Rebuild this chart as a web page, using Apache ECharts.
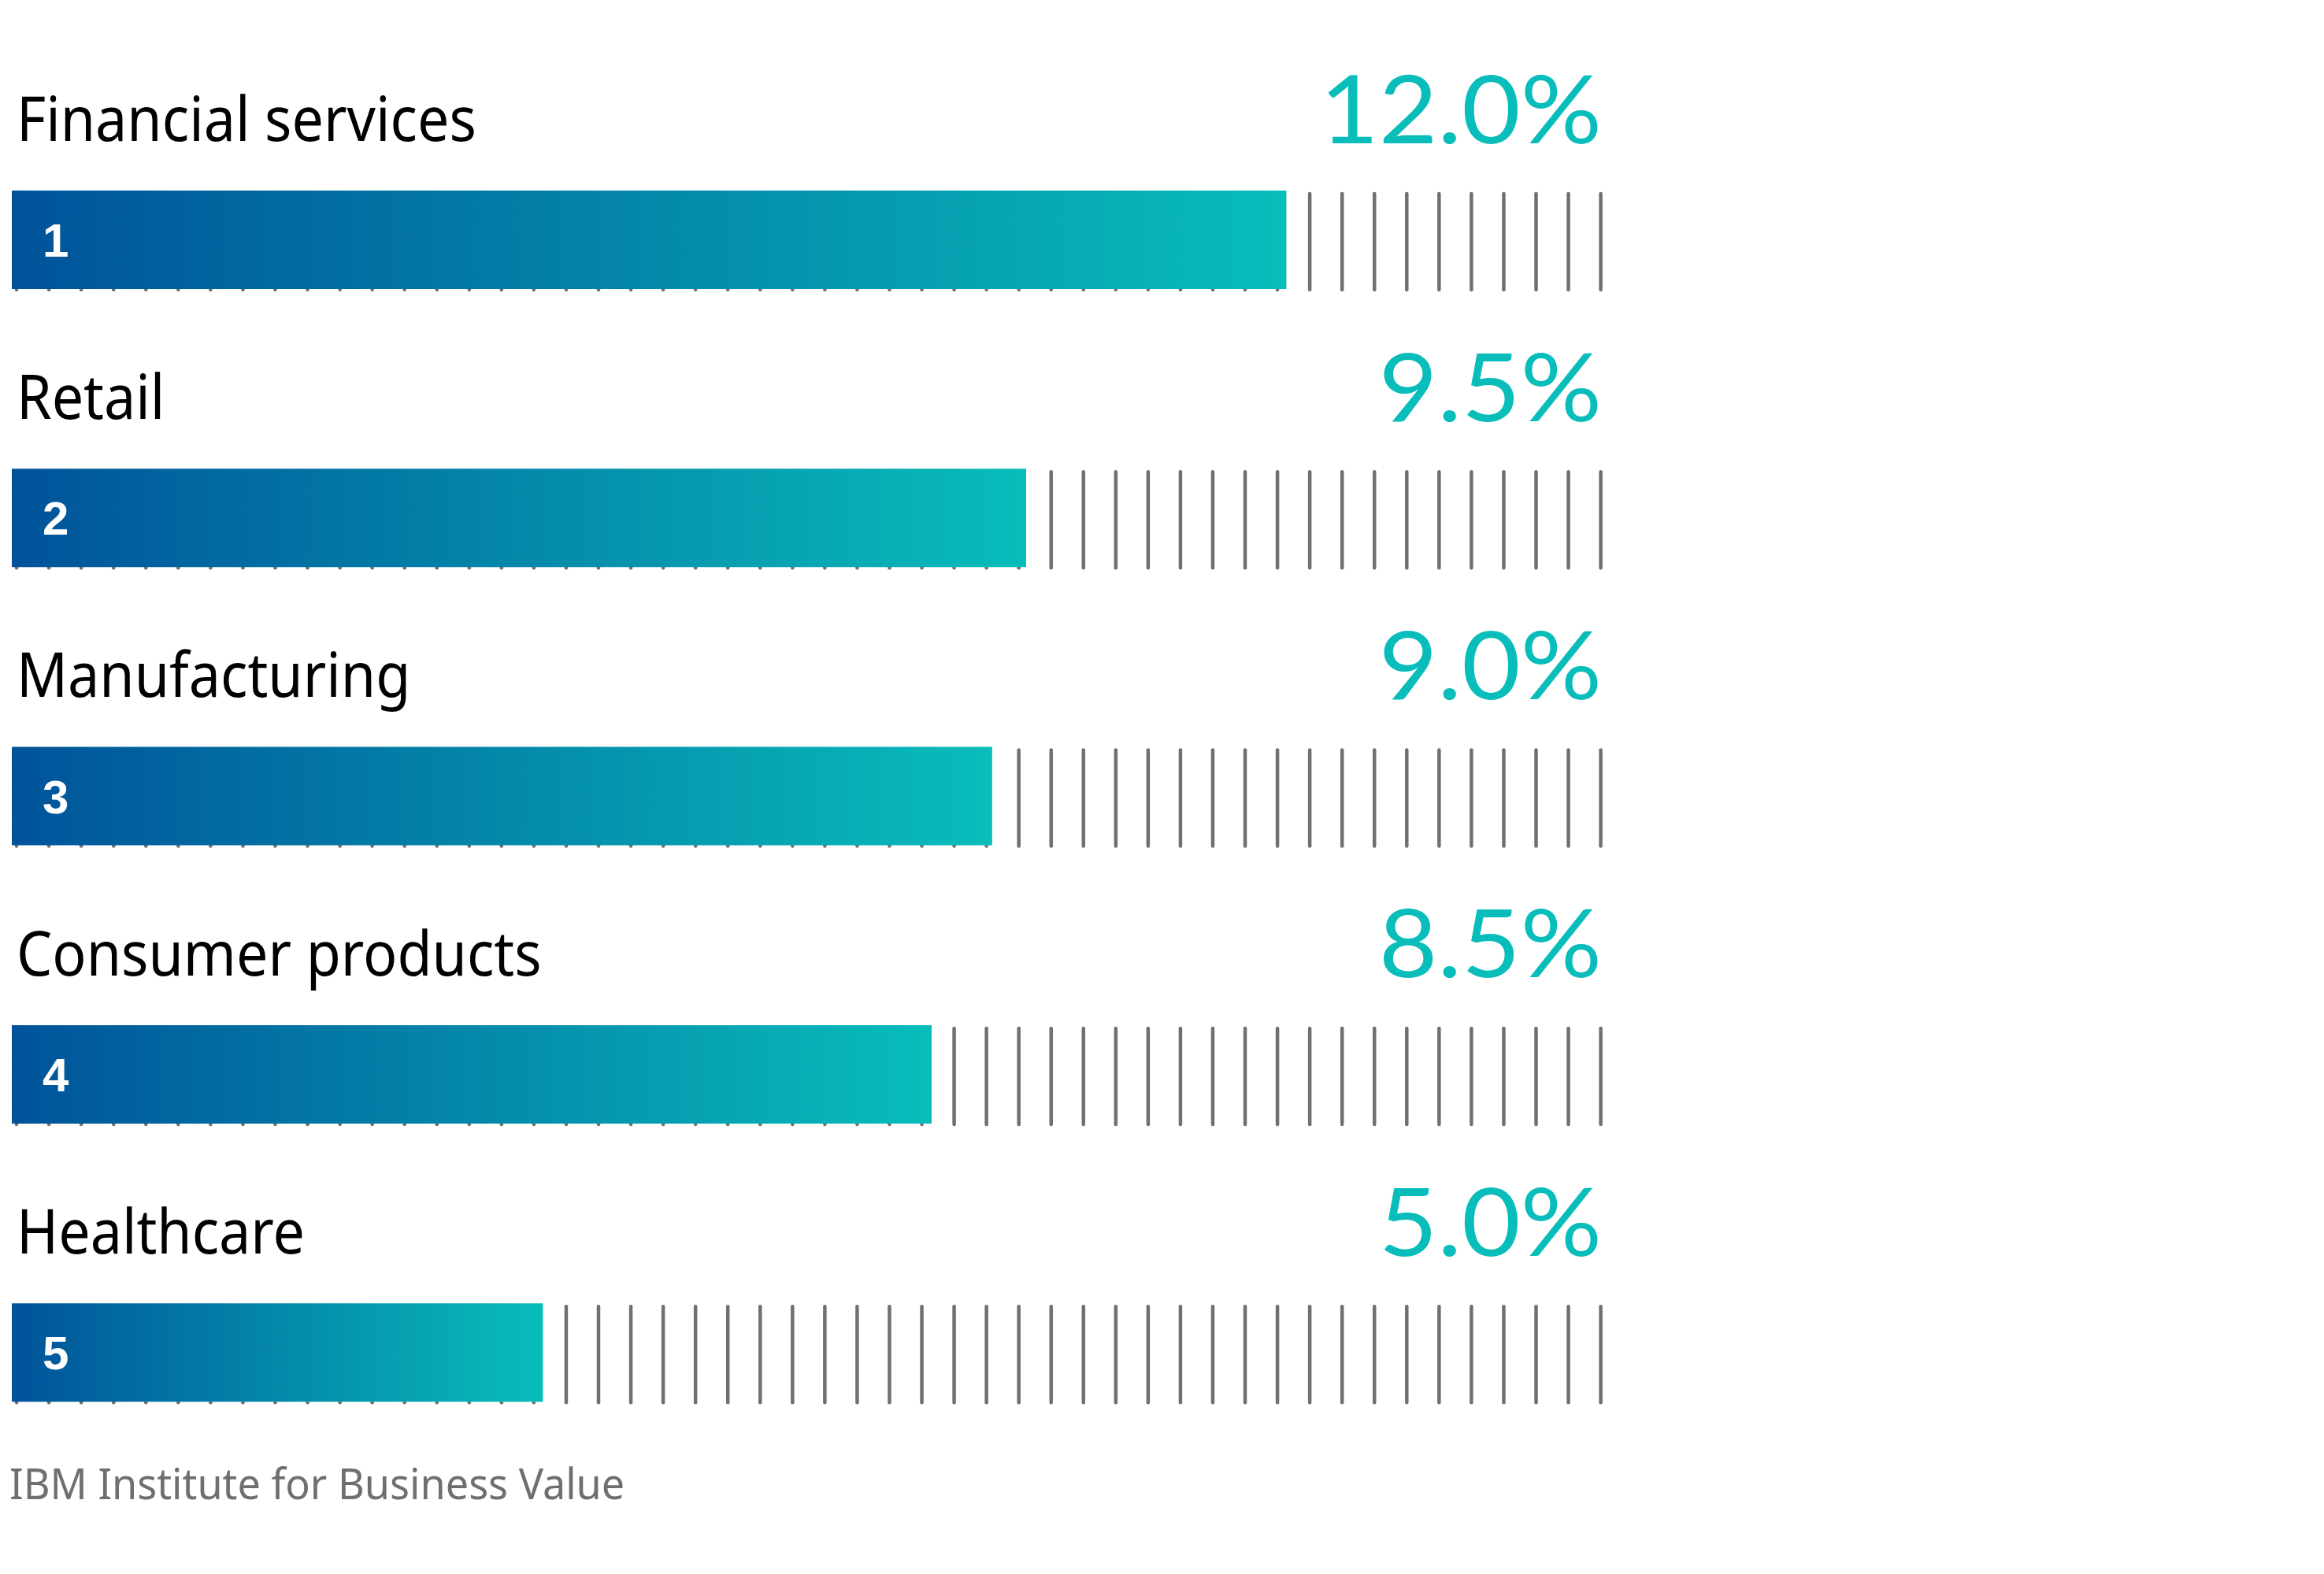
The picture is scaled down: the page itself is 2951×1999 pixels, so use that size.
<!DOCTYPE html>
<html>
<head>
<meta charset="utf-8">
<script src="https://cdn.jsdelivr.net/npm/echarts@6/dist/echarts.min.js"></script>
<style>
  html, body { margin: 0; padding: 0; background: #ffffff; }
  #chart { width: 2951px; height: 1999px; }
</style>
</head>
<body>
<div id="chart"></div>
<script>
// ---- data ----
const categories = ['Financial services', 'Retail', 'Manufacturing', 'Consumer products', 'Healthcare'];
// bar lengths as drawn in the picture (percent)
const barValues = [12.0, 9.55, 9.23, 8.66, 5.0];
// value labels printed above each bar
const valueLabels = ['12.0%', '9.5%', '9.0%', '8.5%', '5.0%'];
const ranks = ['1', '2', '3', '4', '5'];
const axisMax = 15;
const tickFirst = 0.045;
const tickLast = 14.96;
const tickCount = 50;
const sourceNote = 'IBM Institute for Business Value';

// ---- style constants ----
const BAR_H = 125;
const BLUE = '#00539a';
const TEAL = '#08bdba';
const TICK_COLOR = '#707070';

const tickValues = [];
for (let k = 0; k < tickCount; k++) {
  tickValues.push(tickFirst + k * (tickLast - tickFirst) / (tickCount - 1));
}

const chart = echarts.init(document.getElementById('chart'), null, { renderer: 'canvas' });

const option = {
  backgroundColor: '#ffffff',
  animation: false,
  grid: { left: 15, right: 913, top: 127.85, bottom: 104.65, containLabel: false },
  xAxis: { type: 'value', min: 0, max: axisMax, show: false },
  yAxis: { type: 'category', data: categories, inverse: true, show: false },
  graphic: [{
    type: 'text',
    x: 12, y: 1888,
    scaleX: 0.948,
    style: {
      text: sourceNote,
      font: '400 55px "Noto Sans"',
      fill: '#6f6f6f',
      align: 'left',
      verticalAlign: 'middle'
    }
  }],
  series: [
    {
      type: 'custom',
      name: 'ticks',
      z: 1,
      data: categories.map((c, i) => [0, i]),
      encode: { x: 0, y: 1 },
      renderItem: function (params, api) {
        const row = api.value(1);
        const children = tickValues.map(function (v) {
          const p = api.coord([v, row]);
          return {
            type: 'line',
            shape: { x1: p[0], y1: p[1] - BAR_H / 2 + 4, x2: p[0], y2: p[1] + BAR_H / 2 + 1 },
            style: { stroke: TICK_COLOR, lineWidth: 4.5, lineCap: 'round' }
          };
        });
        return { type: 'group', children: children };
      }
    },
    {
      type: 'bar',
      name: 'share',
      z: 3,
      barWidth: BAR_H,
      data: barValues,
      itemStyle: {
        color: new echarts.graphic.LinearGradient(0, 0, 1, 0, [
          { offset: 0, color: BLUE },
          { offset: 1, color: TEAL }
        ])
      },
      label: {
        show: true,
        position: 'insideLeft',
        distance: 36,
        offset: [3, 5],
        formatter: function (p) { return ranks[p.dataIndex]; },
        color: '#ffffff',
        fontSize: 60,
        fontWeight: 'bold',
        fontFamily: '"Liberation Sans", Arial, sans-serif'
      }
    },
    {
      type: 'custom',
      name: 'labels',
      z: 4,
      data: categories.map((c, i) => [0, i]),
      encode: { x: 0, y: 1 },
      renderItem: function (params, api) {
        const row = api.value(1);
        const left = api.coord([0, row]);
        const right = api.coord([axisMax, row]);
        return {
          type: 'group',
          children: [
            {
              type: 'text',
              x: left[0] + 6, y: left[1] - 148,
              scaleX: 0.92,
              style: {
                text: categories[row],
                font: '400 78px "Noto Sans"',
                fill: '#000000',
                align: 'left',
                verticalAlign: 'middle'
              }
            },
            {
              type: 'text',
              x: right[0] - 4, y: left[1] - 162,
              scaleX: 1.065,
              style: {
                text: valueLabels[row],
                font: '400 121px Lato, "Noto Sans"',
                fill: TEAL,
                align: 'right',
                verticalAlign: 'middle'
              }
            }
          ]
        };
      }
    }
  ]
};

chart.setOption(option);
</script>
</body>
</html>
